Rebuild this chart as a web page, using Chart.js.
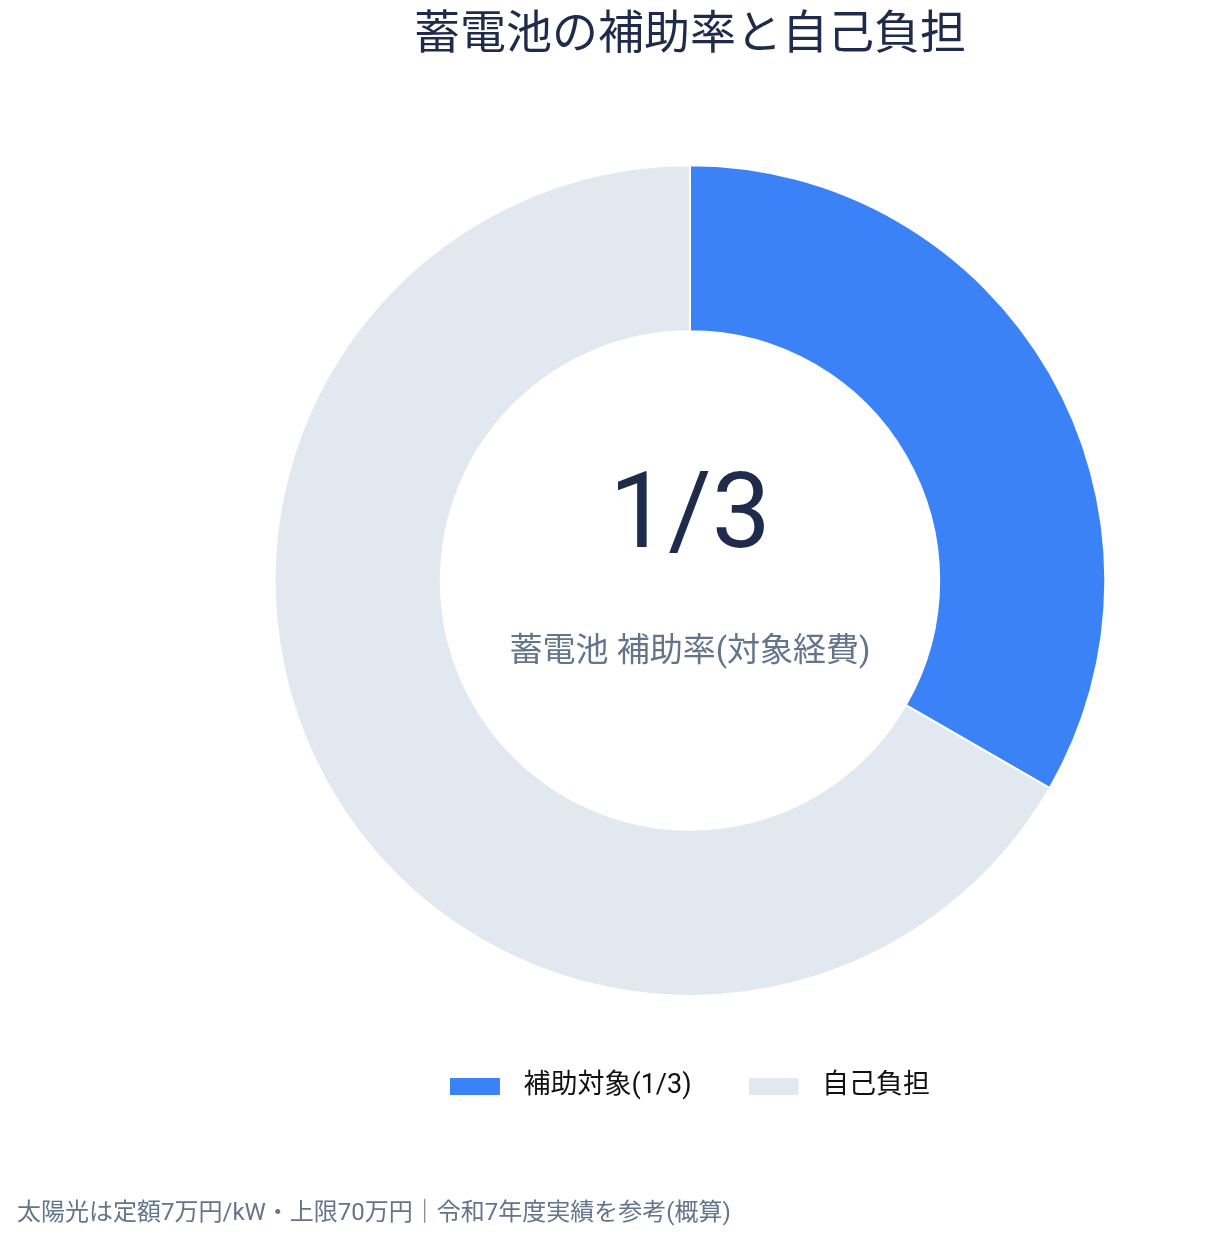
<!DOCTYPE html>
<html lang="ja">
<head>
<meta charset="utf-8">
<script src="https://cdn.jsdelivr.net/npm/chart.js@4.4.1/dist/chart.umd.min.js"></script>
<style>
  html, body { margin: 0; padding: 0; background: #fff; }
  #wrap { width: 1225px; height: 1242px; position: relative; }
</style>
</head>
<body>
<div id="wrap"><canvas id="chart"></canvas></div>
<script>
// データ
const labels = ['補助対象(1/3)', '自己負担'];
const shares = [1, 2];
const colors = ['#3b82f6', '#e2e8f0'];

const titleText = '蓄電池の補助率と自己負担';
const centerMain = '1/3';
const centerSub = '蓄電池 補助率(対象経費)';
const footNote = '太陽光は定額7万円/kW・上限70万円｜令和7年度実績を参考(概算)';

const FONT = 'Roboto, "Noto Sans CJK JP", sans-serif';

// 凡例の色見本 (左寄せの長方形 + 余白)
function makeSwatch(color) {
    const c = document.createElement('canvas');
    c.width = 60;
    c.height = 17;
    const g = c.getContext('2d');
    g.fillStyle = color;
    g.fillRect(0, 0, 50, 17);
    return c;
}

// 中央テキストと注記
const centerText = {
    id: 'centerText',
    afterDraw(chart) {
        const ctx = chart.ctx;
        const arc = chart.getDatasetMeta(0).data[0];
        if (!arc) return;
        const x = arc.x, y = arc.y;
        ctx.save();
        ctx.textAlign = 'center';
        ctx.textBaseline = 'middle';
        ctx.fillStyle = '#1e2b4a';
        ctx.font = '400 105px ' + FONT;
        ctx.fillText(centerMain, x, y - 60);
        ctx.fillStyle = '#64748b';
        ctx.font = '400 33px ' + FONT;
        ctx.fillText(centerSub, x, y + 72);
        // 注記
        ctx.textAlign = 'left';
        ctx.font = '400 24px ' + FONT;
        ctx.fillText(footNote, 17, chart.height - 28);
        ctx.restore();
    }
};

new Chart(document.getElementById('chart'), {
    type: 'doughnut',
    data: {
        labels: labels,
        datasets: [{
            data: shares,
            backgroundColor: colors,
            borderColor: '#ffffff',
            borderWidth: 2
        }]
    },
    options: {
        responsive: true,
        maintainAspectRatio: false,
        animation: false,
        cutout: '60%',
        layout: { padding: { left: 155, right: 0, top: 0, bottom: 132 } },
        plugins: {
            title: {
                display: true,
                text: titleText,
                color: '#1e2b4a',
                font: { family: FONT, size: 46, weight: '400' },
                padding: { top: 9, bottom: 100 }
            },
            legend: {
                position: 'bottom',
                title: {
                    display: true,
                    text: '',
                    font: { size: 16 },
                    padding: 0
                },
                labels: {
                    color: '#111111',
                    font: { family: FONT, size: 27 },
                    usePointStyle: true,
                    pointStyleWidth: 60,
                    boxHeight: 17,
                    padding: 57,
                    generateLabels(chart) {
                        const items = Chart.overrides.doughnut.plugins.legend.labels.generateLabels(chart);
                        items.forEach((item, i) => {
                            item.pointStyle = makeSwatch(colors[i]);
                        });
                        return items;
                    }
                }
            },
            tooltip: { enabled: false }
        }
    },
    plugins: [centerText]
});
</script>
</body>
</html>
